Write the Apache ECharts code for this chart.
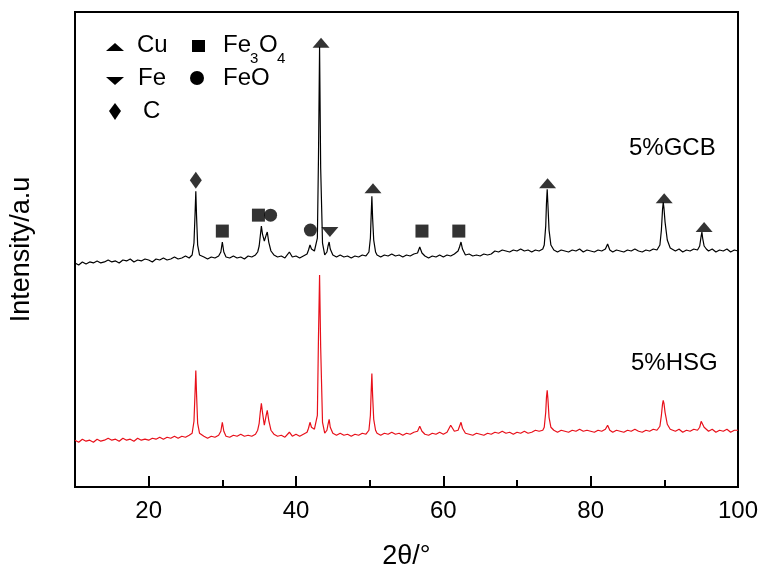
<!DOCTYPE html>
<html>
<head>
<meta charset="utf-8">
<script src="https://cdn.jsdelivr.net/npm/echarts@6/dist/echarts.min.js"></script>
<style>html,body{margin:0;padding:0;background:#fff}#chart{width:768px;height:575px}</style>
</head>
<body>
<div id="chart"></div>
<script>
// 2θ (deg), intensity (a.u.)
var gcbPattern = [[10,225],[10.5,223],[11,226],[11.5,224],[12,226],[12.5,225],[13,227],[13.5,225],[14,226],[14.5,228],[15,226],[15.5,227],[16,225],[16.5,228],[17,227],[17.5,229],[18,226],[18.5,228],[19,227],[19.5,229],[20,228],[20.5,226],[21,229],[21.5,228],[22,230],[22.5,228],[23,229],[23.5,231],[24,229],[24.5,230],[25,232],[25.5,230],[25.9,233],[26.15,245],[26.3,275],[26.4,297],[26.5,272],[26.65,243],[26.9,233],[27.5,231],[28,229],[28.5,231],[29,230],[29.5,232],[29.8,236],[30.0,246],[30.2,236],[30.5,231],[31,230],[31.5,232],[32,230],[32.5,231],[33,229],[33.5,232],[34,231],[34.5,233],[34.8,236],[35.0,242],[35.15,252],[35.3,262],[35.45,254],[35.7,247],[35.95,253],[36.1,256],[36.3,246],[36.6,237],[37.0,233],[37.5,231],[38,232],[38.5,230],[39.1,236],[39.5,231],[40,232],[40.5,230],[41,232],[41.5,234],[41.7,238],[41.9,243],[42.1,239],[42.5,237],[42.9,250],[43.05,330],[43.2,442],[43.35,320],[43.6,245],[43.9,233],[44.2,236],[44.35,242],[44.5,246],[44.65,239],[45.0,233],[45.5,231],[46,233],[46.5,231],[47,232],[47.5,230],[48,232],[48.5,231],[49,233],[49.5,232],[49.9,236],[50.1,250],[50.2,272],[50.3,292],[50.4,270],[50.55,248],[50.8,236],[51,233],[51.5,231],[52,233],[52.5,232],[53,234],[53.5,232],[54,233],[54.5,231],[55,233],[55.5,232],[56,234],[56.5,235],[56.8,241],[57.1,235],[57.5,232],[58,230],[58.5,232],[59,231],[59.5,233],[60,231],[60.5,233],[61,232],[61.5,234],[62.0,237],[62.2,241],[62.4,246],[62.6,239],[63,233],[63.5,234],[64,232],[64.5,233],[65,232],[65.5,234],[66,233],[66.5,234],[67,237],[67.5,236],[68,238],[68.5,237],[69,236],[69.5,238],[70,237],[70.5,239],[71,237],[71.5,238],[72,236],[72.5,238],[73,237],[73.5,239],[73.7,243],[73.9,262],[74.0,285],[74.1,299],[74.2,283],[74.35,258],[74.6,243],[75,238],[75.5,236],[76,238],[76.5,237],[77,236],[77.5,238],[78,237],[78.5,239],[79,236],[79.5,238],[80,237],[80.5,236],[81,238],[81.5,237],[82,239],[82.3,244],[82.6,238],[83,236],[83.5,238],[84,237],[84.5,236],[85,238],[85.5,237],[86,239],[86.5,237],[87,236],[87.5,238],[88,237],[88.5,239],[89,238],[89.4,243],[89.6,258],[89.75,278],[89.85,286],[89.95,280],[90.1,266],[90.4,248],[90.8,240],[91,238],[91.5,237],[92,239],[92.5,236],[93,238],[93.5,237],[94,239],[94.5,238],[94.8,242],[95.0,252],[95.1,256],[95.2,250],[95.4,242],[95.7,239],[96,237],[96.5,239],[97,236],[97.5,238],[98,237],[98.5,239],[99,236],[99.5,238],[100,237]];

var hsgPattern = [[10,47],[10.5,45],[11,48],[11.5,46],[12,47],[12.5,45],[13,48],[13.5,46],[14,47],[14.5,49],[15,47],[15.5,48],[16,46],[16.5,49],[17,47],[17.5,48],[18,46],[18.5,49],[19,47],[19.5,48],[20,47],[20.5,49],[21,48],[21.5,50],[22,48],[22.5,50],[23,49],[23.5,51],[24,49],[24.5,51],[25,50],[25.5,52],[25.9,54],[26.15,66],[26.3,96],[26.4,117],[26.5,93],[26.65,64],[26.9,54],[27.5,51],[28,49],[28.5,51],[29,50],[29.5,52],[29.8,56],[30.0,65],[30.2,56],[30.5,51],[31,50],[31.5,52],[32,51],[32.5,53],[33,51],[33.5,52],[34,51],[34.5,53],[34.8,57],[35.0,64],[35.15,75],[35.3,84],[35.45,75],[35.7,62],[35.95,72],[36.1,77],[36.3,67],[36.6,57],[37.0,53],[37.5,51],[38,52],[38.5,50],[39.1,55],[39.5,51],[40,53],[40.5,51],[41,53],[41.5,55],[41.7,59],[41.9,65],[42.1,60],[42.5,58],[42.9,72],[43.05,150],[43.2,213],[43.35,140],[43.6,65],[43.9,54],[44.2,57],[44.35,63],[44.5,68],[44.65,60],[45.0,54],[45.5,52],[46,54],[46.5,52],[47,53],[47.5,51],[48,53],[48.5,52],[49,54],[49.5,53],[49.9,57],[50.1,72],[50.2,95],[50.3,114],[50.4,92],[50.55,68],[50.8,57],[51,54],[51.5,52],[52,54],[52.5,53],[53,55],[53.5,53],[54,54],[54.5,52],[55,54],[55.5,53],[56,55],[56.5,56],[56.8,61],[57.1,56],[57.5,53],[58,52],[58.5,54],[59,53],[59.5,55],[60,53],[60.5,55],[61,62],[61.5,56],[62.0,57],[62.2,61],[62.4,65],[62.6,59],[63,54],[63.5,53],[64,52],[64.5,54],[65,53],[65.5,52],[66,54],[66.5,53],[67,55],[67.5,54],[68,56],[68.5,54],[69,55],[69.5,53],[70,55],[70.5,54],[71,56],[71.5,54],[72,55],[72.5,57],[73,56],[73.5,57],[73.7,60],[73.9,75],[74.0,90],[74.1,97],[74.2,88],[74.35,70],[74.6,60],[75,57],[75.5,55],[76,57],[76.5,56],[77,55],[77.5,57],[78,56],[78.5,58],[79,56],[79.5,57],[80,56],[80.5,55],[81,57],[81.5,56],[82,58],[82.3,62],[82.6,57],[83,55],[83.5,57],[84,56],[84.5,55],[85,57],[85.5,56],[86,58],[86.5,56],[87,55],[87.5,57],[88,56],[88.5,58],[89,57],[89.4,61],[89.6,72],[89.75,83],[89.85,87],[89.95,84],[90.1,75],[90.4,63],[90.8,58],[91,57],[91.5,56],[92,58],[92.5,55],[93,57],[93.5,56],[94,58],[94.5,57],[94.8,60],[95.0,66],[95.1,68],[95.2,64],[95.4,60],[95.7,58],[96,56],[96.5,58],[97,55],[97.5,57],[98,56],[98.5,58],[99,55],[99.5,57],[100,57]];

// phase identification markers above the 5%GCB peaks
var cuMarks = [[43.4,446],[50.45,300],[74.15,305],[89.98,290],[95.4,261]];
var feMarks = [[44.6,256]];
var fe3o4Marks = [[30.0,257],[34.9,273],[57.1,257],[62.1,257]];
var feoMarks = [[36.55,273],[41.95,258]];
var cMarks = [[26.4,308]];

// x tick positions: every 10 degrees, labelled every 20
var xTickValues = ['10', '20', '30', '40', '50', '60', '70', '80', '90', '100'];
var sampleNames = ['5%GCB', '5%HSG'];

var FONT = 'Liberation Sans, Arial, Helvetica, sans-serif';
var chart = echarts.init(document.getElementById('chart'));

function isMajor(idx, val) { return Number(val) % 20 === 0; }

function markSeries(data, symbol, size, rotate) {
  return {
    type: 'scatter', data: data, symbol: symbol, symbolSize: size,
    symbolRotate: rotate || 0, itemStyle: { color: '#000' }, silent: true, z: 5
  };
}

function txt(left, cy, s, size) {
  return { type: 'text', left: left, top: cy - size * 0.58, style: { text: s, font: size + 'px ' + FONT, fill: '#000' } };
}

chart.setOption({
  animation: false,
  backgroundColor: '#fff',
  grid: { left: 74, right: 30, top: 12, bottom: 86, show: true, borderColor: '#000', borderWidth: 2, backgroundColor: 'transparent' },
  xAxis: [{
    // value axis for the data; short ticks every 10 degrees
    type: 'value', min: 10, max: 100, interval: 10,
    axisLine: { show: true, lineStyle: { color: '#000', width: 2 } },
    axisTick: { show: true, inside: true, length: 7, lineStyle: { color: '#000', width: 2 } },
    axisLabel: { show: false },
    splitLine: { show: false }
  }, {
    // overlay axis: long ticks and labels every 20 degrees
    type: 'category', data: xTickValues, boundaryGap: false, position: 'bottom',
    name: '2θ/°', nameLocation: 'middle', nameGap: 56,
    nameTextStyle: { fontFamily: FONT, fontSize: 27, color: '#000' },
    axisLine: { show: false },
    axisTick: { show: true, inside: true, length: 11, interval: isMajor, alignWithLabel: true, lineStyle: { color: '#000', width: 2 } },
    axisLabel: { show: true, interval: isMajor, fontFamily: FONT, fontSize: 24, color: '#000', margin: 12 },
    splitLine: { show: false }
  }],
  yAxis: {
    type: 'value', min: 0, max: 477,
    name: 'Intensity/a.u', nameLocation: 'middle', nameGap: 40,
    nameTextStyle: { fontFamily: FONT, fontSize: 27, color: '#000' },
    axisLine: { show: true, lineStyle: { color: '#000', width: 2 } },
    axisTick: { show: false }, axisLabel: { show: false }, splitLine: { show: false }
  },
  series: [
    { name: sampleNames[0], type: 'line', data: gcbPattern, showSymbol: false, symbol: 'none', lineStyle: { color: '#000', width: 1.2 }, z: 3 },
    { name: sampleNames[1], type: 'line', data: hsgPattern, showSymbol: false, symbol: 'none', lineStyle: { color: '#e8101a', width: 1.2 }, z: 3 },
    markSeries(cuMarks, 'triangle', [17, 10]),
    markSeries(feMarks, 'triangle', [17, 10], 180),
    markSeries(fe3o4Marks, 'rect', [13, 13]),
    markSeries(feoMarks, 'circle', 13),
    markSeries(cMarks, 'diamond', [12, 17])
  ],
  graphic: [
    { type: 'polygon', shape: { points: [[106, 51], [124, 51], [115, 43]] }, style: { fill: '#000' } },
    txt(137, 47, 'Cu', 24),
    { type: 'rect', shape: { x: 192, y: 40, width: 13, height: 12 }, style: { fill: '#000' } },
    txt(223, 47, 'Fe', 24),
    txt(250, 60, '3', 15),
    txt(259, 47, 'O', 24),
    txt(277, 60, '4', 15),
    { type: 'polygon', shape: { points: [[106, 77], [124, 77], [115, 85]] }, style: { fill: '#000' } },
    txt(138, 80, 'Fe', 24),
    { type: 'circle', shape: { cx: 197, cy: 78, r: 7 }, style: { fill: '#000' } },
    txt(223, 80, 'FeO', 24),
    { type: 'polygon', shape: { points: [[115, 103], [121, 111], [115, 120], [109, 111]] }, style: { fill: '#000' } },
    txt(143, 113, 'C', 24),
    txt(629, 150, sampleNames[0], 24),
    txt(631, 365, sampleNames[1], 24)
  ]
});
</script>
</body>
</html>
